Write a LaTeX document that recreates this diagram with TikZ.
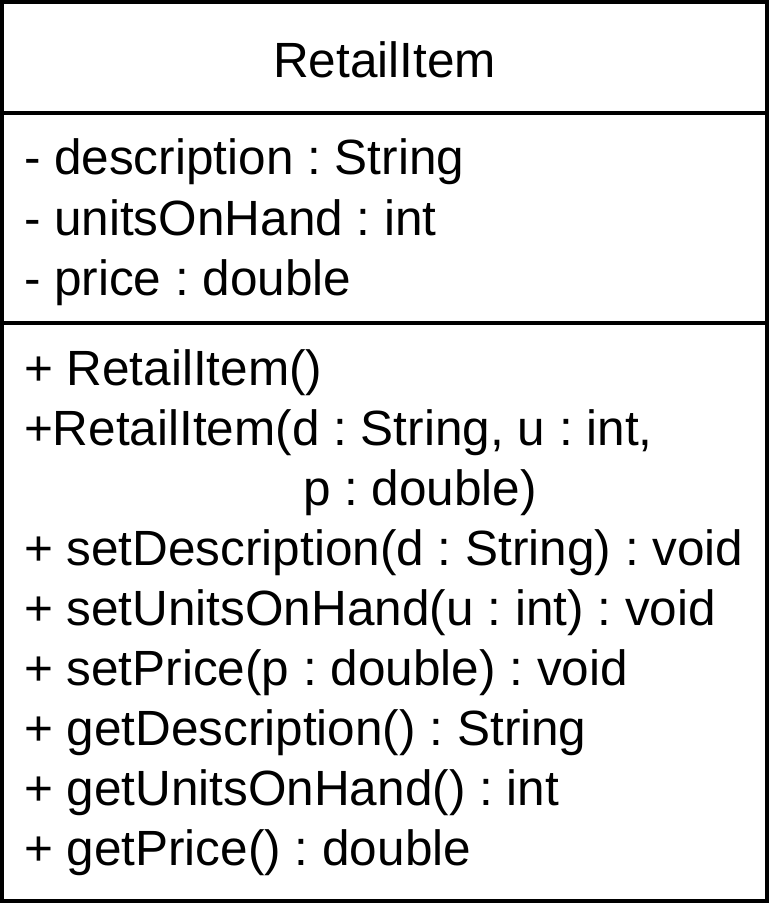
\documentclass[tikz,border=0pt]{standalone}
\usepackage{fontspec}
\setmainfont{Liberation Sans}
\frenchspacing
\begin{document}
\begin{tikzpicture}[x=1pt,y=-1pt,
  umltext/.style={anchor=base west,inner sep=0pt,outer sep=0pt,font=\fontsize{49.5}{60}\selectfont\frenchspacing},
  umlline/.style={line width=4pt,black}]
\useasboundingbox (0,0) rectangle (770,904);
\coordinate (tl) at (2,2);
\coordinate (br) at (767,901);
\coordinate (d1l) at (2,113);
\coordinate (d1r) at (767,113);
\coordinate (d2l) at (2,323);
\coordinate (d2r) at (767,323);
\draw[umlline] (tl) rectangle (br);
\draw[umlline] (d1l) -- (d1r);
\draw[umlline] (d2l) -- (d2r);
\node[umltext,anchor=base] (title) at (384.5,78) {RetailItem};
\node[umltext] (a1) at (24,175) {- description : String};
\node[umltext] (a2) at (24,235) {- unitsOnHand : int};
\node[umltext] (a3) at (24,295) {- price : double};
\node[umltext] (m1) at (24,385) {+ RetailItem()};
\node[umltext] (m2) at (24,445) {+RetailItem(d : String, u : int,};
\node[umltext] (m2b) at (303,505) {p : double)};
\node[umltext] (m3) at (24,565) {+ setDescription(d : String) : void};
\node[umltext] (m4) at (24,625) {+ setUnitsOnHand(u : int) : void};
\node[umltext] (m5) at (24,685) {+ setPrice(p : double) : void};
\node[umltext] (m6) at (24,745) {+ getDescription() : String};
\node[umltext] (m7) at (24,805) {+ getUnitsOnHand() : int};
\node[umltext] (m8) at (24,865) {+ getPrice() : double};
\end{tikzpicture}
\end{document}
